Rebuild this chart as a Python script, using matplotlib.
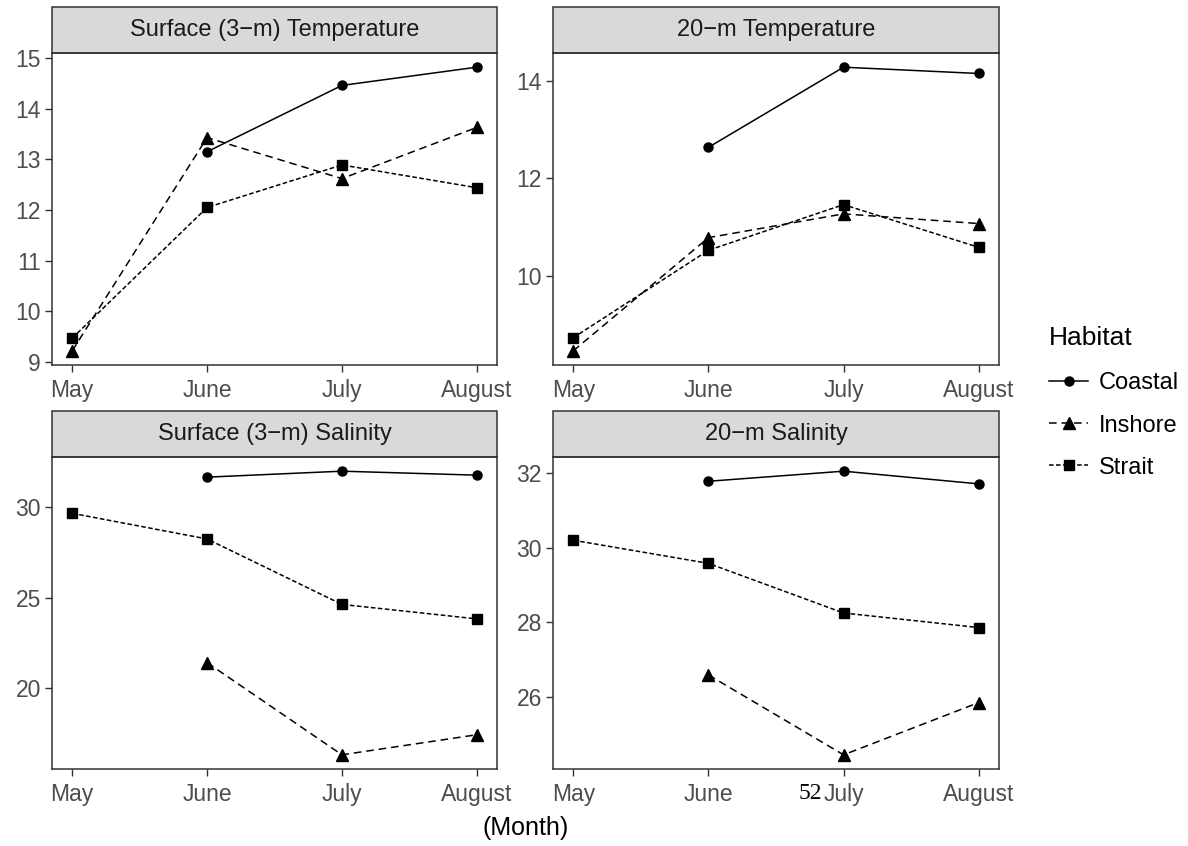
import matplotlib.pyplot as plt
import numpy as np
from matplotlib.patches import Rectangle

plt.rcParams['font.family'] = ['Liberation Sans', 'DejaVu Sans']

months = ['May', 'June', 'July', 'August']
habitats = ['Coastal', 'Inshore', 'Strait']
panels = ['Surface (3\u2212m) Temperature', '20\u2212m Temperature',
          'Surface (3\u2212m) Salinity', '20\u2212m Salinity']

nan = np.nan
# valores (May, June, July, August)
temp3_coastal = [nan, 13.15, 14.46, 14.82]
temp3_inshore = [9.22, 13.43, 12.62, 13.63]
temp3_strait = [9.47, 12.05, 12.89, 12.44]

temp20_coastal = [nan, 12.64, 14.29, 14.16]
temp20_inshore = [8.45, 10.78, 11.27, 11.07]
temp20_strait = [8.72, 10.52, 11.46, 10.58]

sal3_coastal = [nan, 31.67, 32.0, 31.78]
sal3_inshore = [nan, 21.41, 16.31, 17.42]
sal3_strait = [29.67, 28.25, 24.63, 23.83]

sal20_coastal = [nan, 31.78, 32.05, 31.71]
sal20_inshore = [nan, 26.59, 24.45, 25.85]
sal20_strait = [30.2, 29.58, 28.25, 27.86]

datos = [
    [temp3_coastal, temp3_inshore, temp3_strait],
    [temp20_coastal, temp20_inshore, temp20_strait],
    [sal3_coastal, sal3_inshore, sal3_strait],
    [sal20_coastal, sal20_inshore, sal20_strait],
]
yticks = [[9, 10, 11, 12, 13, 14, 15], [10, 12, 14], [20, 25, 30], [26, 28, 30, 32]]

estilos = {
    'Coastal': dict(ls='-', marker='o', ms=6.5),
    'Inshore': dict(ls=(0, (5, 3.2)), marker='^', ms=8.5),
    'Strait': dict(ls=(0, (3, 1.6)), marker='s', ms=6.5),
}

W, H = 1188, 846
fig = plt.figure(figsize=(W / 100, H / 100), dpi=100)

# posiciones de los paneles en pixeles: izquierda, derecha, arriba, abajo
cajas = [(52, 497, 53, 365), (553, 999, 53, 365),
         (52, 497, 457, 769), (553, 999, 457, 769)]
strip_h = 46

x = np.arange(len(months))
gris = '#333333'
for i, (l, r, t, b) in enumerate(cajas):
    ax = fig.add_axes([l / W, 1 - b / H, (r - l) / W, (b - t) / H])
    for nombre, serie in zip(habitats, datos[i]):
        st = estilos[nombre]
        ax.plot(x, serie, color='black', lw=1.1, linestyle=st['ls'],
                marker=st['marker'], markersize=st['ms'],
                markerfacecolor='black', markeredgecolor='black', label=nombre)
    ax.set_xlim(-0.15, 3.15)
    ax.margins(y=0.05)
    ax.set_xticks(x)
    ax.set_xticklabels(months)
    ax.set_yticks(yticks[i])
    ax.tick_params(colors=gris, labelcolor='#4D4D4D', labelsize=16.5,
                   length=5, width=1.0, pad=3)
    ax.tick_params(axis='x', pad=5)
    for s in ax.spines.values():
        s.set_color(gris)
        s.set_linewidth(1.1)
    # franja del titulo
    hh = strip_h / (b - t)
    ax.add_patch(Rectangle((0, 1), 1, hh, transform=ax.transAxes,
                           facecolor='#D9D9D9', edgecolor=gris, lw=1.1,
                           clip_on=False))
    ax.text(0.5, 1 + hh / 2, panels[i], transform=ax.transAxes,
            ha='center', va='center', fontsize=17, color='#1A1A1A')
    if i == 0:
        handles, labels = ax.get_legend_handles_labels()

leg = fig.legend(handles, labels, title='Habitat', loc='upper left',
                 bbox_to_anchor=(1028 / W, 1 - 305 / H), frameon=False,
                 fontsize=17, title_fontsize=19, handlelength=1.65,
                 handletextpad=0.45, labelspacing=0.85)
leg._legend_box.align = 'left'
leg._legend_box.sep = 16

fig.text(526 / W, 1 - 828 / H, '(Month)', ha='center', va='center',
         fontsize=18, color='black')
fig.text(810 / W, 1 - 793 / H, '52', ha='center', va='center',
         fontsize=17, color='black', family='Liberation Serif')

fig.savefig('out.png', dpi=100)
